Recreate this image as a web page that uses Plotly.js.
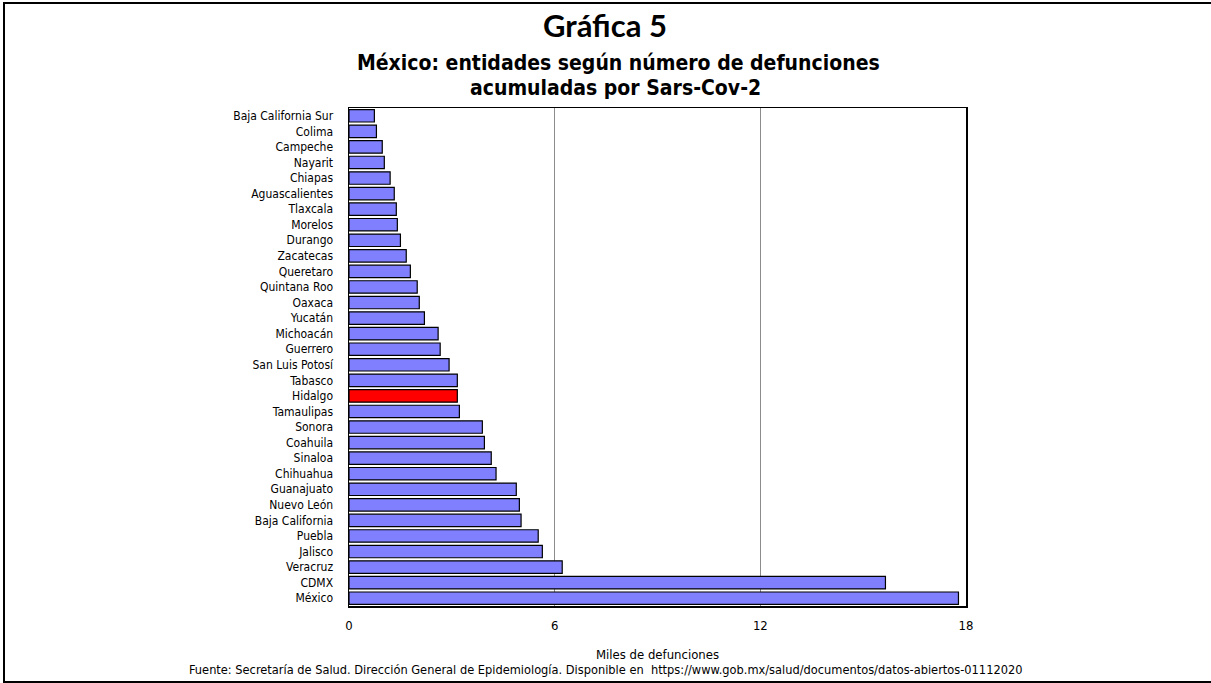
<!DOCTYPE html>
<html>
<head>
<meta charset="utf-8">
<script src="https://cdn.plot.ly/plotly-3.0.1.min.js"></script>
<style>
  html, body { margin:0; padding:0; background:#fff; overflow:hidden; }
  #chart { width:1211px; height:683px; }
  #frame { position:absolute; left:3px; top:2px; width:1300px; height:677px; border:2px solid #000; pointer-events:none; }
</style>
</head>
<body>
<div id="chart"></div>
<div id="frame"></div>
<script>
const estados = ["Baja California Sur","Colima","Campeche","Nayarit","Chiapas","Aguascalientes","Tlaxcala","Morelos","Durango","Zacatecas","Queretaro","Quintana Roo","Oaxaca","Yucatán","Michoacán","Guerrero","San Luis Potosí","Tabasco","Hidalgo","Tamaulipas","Sonora","Coahuila","Sinaloa","Chihuahua","Guanajuato","Nuevo León","Baja California","Puebla","Jalisco","Veracruz","CDMX","México"];
const defunciones = [0.74,0.80,0.97,1.03,1.20,1.32,1.38,1.41,1.50,1.67,1.79,1.99,2.05,2.20,2.60,2.66,2.92,3.16,3.16,3.22,3.89,3.95,4.15,4.29,4.88,4.97,5.02,5.52,5.64,6.22,15.65,17.78];
const destacado = "Hidalgo";
const xTicks = [0,6,12,18];

const narrow = '"Liberation Sans Narrow", "Arial Narrow", "DejaVu Sans Condensed", sans-serif';
const colores = estados.map(e => e === destacado ? '#ff0000' : '#8080ff');

const trace = {
  type: 'bar',
  orientation: 'h',
  y: estados,
  x: defunciones,
  marker: { color: colores, line: { color: '#000', width: 1.2 } },
  hoverinfo: 'x+y'
};

const layout = {
  width: 1211, height: 683,
  margin: { l: 349, r: 245, t: 108, b: 77 },
  paper_bgcolor: '#fff', plot_bgcolor: '#fff',
  showlegend: false,
  bargap: 0.2,
  xaxis: {
    range: [0, 18], tickvals: xTicks, ticktext: xTicks.map(String),
    showgrid: true, gridcolor: '#8c8c8c', gridwidth: 1,
    zeroline: false, showline: true, linecolor: '#000', linewidth: 1.5, mirror: true,
    ticks: '', ticklabelstandoff: 7,
    tickfont: { family: narrow, size: 13, color: '#000' },
    title: { text: 'Miles de defunciones', font: { family: narrow, size: 13, color: '#000' }, standoff: 18 }
  },
  yaxis: {
    type: 'category', autorange: 'reversed',
    showgrid: false, zeroline: false, showline: true, linecolor: '#000', linewidth: 1.5, mirror: true,
    ticks: '', ticklabelstandoff: 12,
    tickfont: { family: narrow, size: 12, color: '#000' }
  },
  annotations: [
    { text: '<b>Gráfica 5</b>', xref: 'paper', yref: 'paper', x: 0.415, y: 1, yshift: 83, showarrow: false,
      xanchor: 'center', yanchor: 'middle', font: { family: 'Lato, "Open Sans", sans-serif', size: 31, color: '#000' } },
    { text: '<b>México: entidades según número de defunciones</b>', xref: 'paper', yref: 'paper', x: 0.437, y: 1, yshift: 45, showarrow: false,
      xanchor: 'center', yanchor: 'middle', font: { family: narrow, size: 21, color: '#000' } },
    { text: '<b>acumuladas por Sars-Cov-2</b>', xref: 'paper', yref: 'paper', x: 0.432, y: 1, yshift: 20, showarrow: false,
      xanchor: 'center', yanchor: 'middle', font: { family: narrow, size: 21, color: '#000' } },
    { text: 'Fuente: Secretaría de Salud. Dirección General de Epidemiología. Disponible en  https://www.gob.mx/salud/documentos/datos-abiertos-01112020',
      xref: 'paper', yref: 'paper', x: 0.415, y: 0, yshift: -63, showarrow: false,
      xanchor: 'center', yanchor: 'middle', font: { family: narrow, size: 12.7, color: '#000' } }
  ]
};

Plotly.newPlot('chart', [trace], layout, { displayModeBar: false, staticPlot: true });
</script>
</body>
</html>
